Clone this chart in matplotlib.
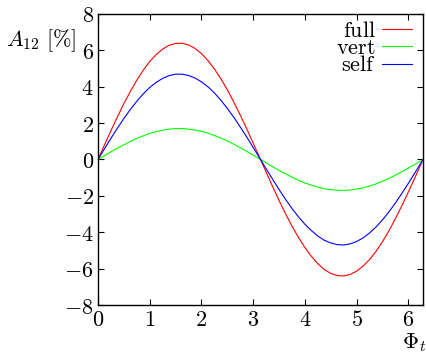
import matplotlib
matplotlib.use("Agg")
import matplotlib.pyplot as plt

plt.rcParams['mathtext.fontset'] = 'cm'
plt.rcParams['font.family'] = 'serif'
plt.rcParams['font.serif'] = ['DejaVu Serif']

# values
phi = [0, 0.125, 0.25, 0.375, 0.5, 0.625, 0.75, 0.875, 1.0, 1.125, 1.25, 1.375, 1.5,
       1.625, 1.75, 1.875, 2.0, 2.125, 2.25, 2.375, 2.5, 2.625, 2.75, 2.875, 3.0,
       3.125, 3.25, 3.375, 3.5, 3.625, 3.75, 3.875, 4.0, 4.125, 4.25, 4.375, 4.5,
       4.625, 4.75, 4.875, 5.0, 5.125, 5.25, 5.375, 5.5, 5.625, 5.75, 5.875, 6.0,
       6.125, 6.25, 6.283]
full = [0, 0.80, 1.58, 2.34, 3.07, 3.74, 4.36, 4.91, 5.39, 5.77, 6.07, 6.28, 6.38,
        6.39, 6.30, 6.11, 5.82, 5.44, 4.98, 4.44, 3.83, 3.16, 2.44, 1.69, 0.90,
        0.11, -0.69, -1.48, -2.25, -2.98, -3.66, -4.28, -4.84, -5.32, -5.73, -6.05, -6.26,
        -6.38, -6.40, -6.32, -6.14, -5.86, -5.50, -5.05, -4.52, -3.92, -3.25, -2.54, -1.79,
        -1.01, -0.21, 0]
vert = [0, 0.21, 0.42, 0.62, 0.81, 0.99, 1.16, 1.30, 1.43, 1.53, 1.61, 1.67, 1.70,
        1.70, 1.67, 1.62, 1.55, 1.45, 1.32, 1.18, 1.02, 0.84, 0.65, 0.45, 0.24,
        0.03, -0.18, -0.39, -0.60, -0.79, -0.97, -1.14, -1.29, -1.41, -1.52, -1.61, -1.66,
        -1.69, -1.70, -1.68, -1.63, -1.56, -1.46, -1.34, -1.20, -1.04, -0.86, -0.67, -0.47,
        -0.27, -0.06, 0]
self_ = [0, 0.59, 1.16, 1.72, 2.25, 2.75, 3.20, 3.61, 3.96, 4.24, 4.46, 4.61, 4.69,
         4.69, 4.62, 4.48, 4.27, 4.00, 3.66, 3.26, 2.81, 2.32, 1.79, 1.24, 0.66,
         0.08, -0.51, -1.08, -1.65, -2.19, -2.69, -3.15, -3.56, -3.91, -4.21, -4.44, -4.59,
         -4.68, -4.70, -4.64, -4.51, -4.31, -4.04, -3.71, -3.32, -2.88, -2.39, -1.86, -1.31,
         -0.74, -0.16, 0]

xticks = [0, 1, 2, 3, 4, 5, 6]
yticks = [-8, -6, -4, -2, 0, 2, 4, 6, 8]

fig = plt.figure(figsize=(4.27, 3.54), dpi=100)
ax = fig.add_axes([0.2295, 0.1384, 0.7611, 0.8221])

ax.plot(phi, full, color='#ff0000', lw=0.8, label=r'$\mathrm{full}$')
ax.plot(phi, vert, color='#00ff00', lw=0.8, label=r'$\mathrm{vert}$')
ax.plot(phi, self_, color='#0000ff', lw=0.8, label=r'$\mathrm{self}$')

ax.set_xlim(0, 6.283)
ax.set_ylim(-8, 8)
ax.set_xticks(xticks)
ax.set_yticks(yticks)
ax.set_xticklabels([r'$%d$' % t for t in xticks], fontsize=16)
ax.set_yticklabels([r'$%d$' % t for t in yticks], fontsize=16)
ax.tick_params(direction='in', top=True, right=True, length=4, width=0.8, pad=3)
for s in ax.spines.values():
    s.set_linewidth(1.0)

fig.text(0.015, 0.885, r'$A_{12}\ [\%]$', fontsize=16, ha='left', va='center')
fig.text(0.997, 0.032, r'$\Phi_t$', fontsize=16, ha='right', va='center')

leg = ax.legend(loc='upper right', bbox_to_anchor=(0.966, 0.98), frameon=False,
                fontsize=16, handlelength=1.35, handletextpad=0.27,
                labelspacing=-0.21, markerfirst=False, borderaxespad=0, borderpad=0)

fig.savefig('out.png', dpi=100)
